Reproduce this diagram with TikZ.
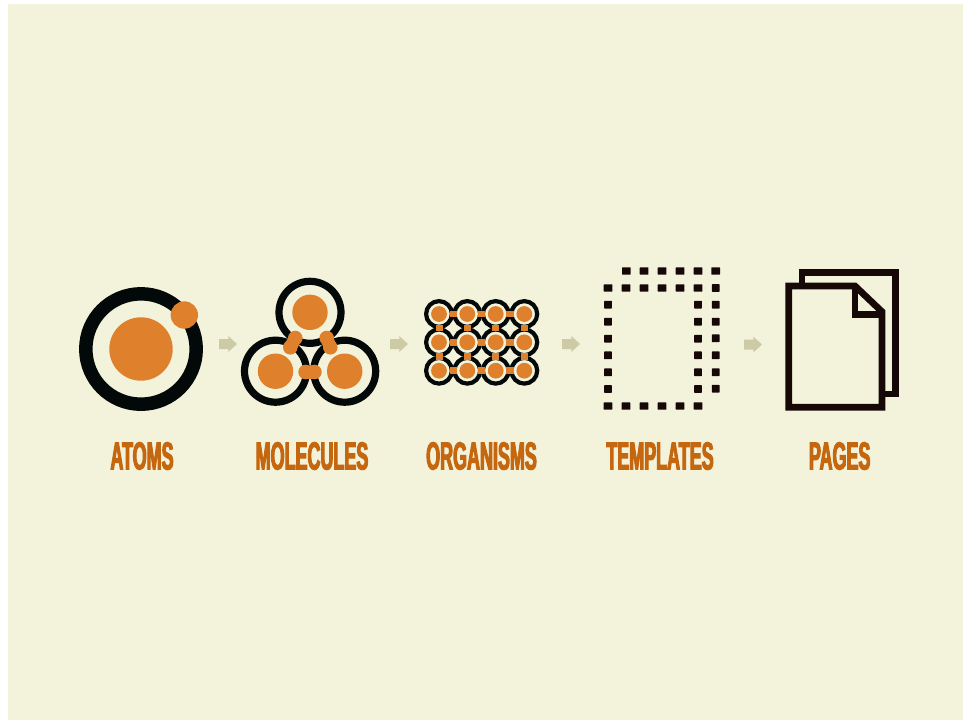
\documentclass[tikz,border=0pt]{standalone}
\usepackage{fontspec}
\newfontfamily\labelfont[FakeStretch=0.46,FakeBold=2.6]{Liberation Sans Bold}
\definecolor{paper}{HTML}{F3F2DA}
\definecolor{inkblack}{HTML}{030808}
\definecolor{inkbrown}{HTML}{170808}
\definecolor{discorange}{HTML}{DF812C}
\definecolor{labelorange}{HTML}{C4670F}
\definecolor{arrowtan}{HTML}{CCCBA6}
\tikzset{
  x=1pt,y=-1pt,
  ring/.style={draw=inkblack},
  disc/.style={fill=discorange},
  labeltext/.style={text=labelorange,font=\labelfont\fontsize{39}{39}\selectfont,inner sep=0pt,anchor=center},
  arrowblock/.style={fill=arrowtan},
  dot/.style={fill=inkbrown,rounded corners=0.5pt},
  pageline/.style={draw=inkbrown,line width=6.7pt,miter limit=10,fill=none},
}
\newcommand{\tarrow}[2]{\path[arrowblock] (#1,#2-5) -- (#1+9.3,#2-5) -- (#1+9.3,#2-8) -- (#1+18,#2) -- (#1+9.3,#2+8) -- (#1+9.3,#2+5) -- (#1,#2+5) -- cycle;}
\newcommand{\rdot}[2]{\path[dot] (#1-4.3,#2-3.7) rectangle (#1+4.3,#2+3.7);}
\newcommand{\vdotbox}[2]{\path[dot] (#1-3.8,#2-3.9) rectangle (#1+3.8,#2+3.9);}
\begin{document}
\begin{tikzpicture}
\useasboundingbox (0,0) rectangle (963,721);
\fill[white] (0,0) rectangle (963,721);
\fill[paper] (8,4) rectangle (963,720);
% atoms
\draw[ring,line width=13.5pt] (141,349) circle[radius=55.2];
\fill[disc] (141,349) circle[radius=31.7];
\fill[disc] (184.3,315) circle[radius=13.7];
% molecules
\foreach \cx/\cy in {310/312.3,275.5/371.2,344.7/371.2}{
  \draw[ring,line width=7.2pt] (\cx,\cy) circle[radius=31];
  \fill[disc] (\cx,\cy) circle[radius=17.7];
}
\foreach \ax/\ay/\bx/\by in {295.3/338/290.3/347.3,326.7/338/330.3/347.3,305.6/372/314.4/372}{
  \fill[disc] (\ax,\ay) circle[radius=7.3];
  \fill[disc] (\bx,\by) circle[radius=7.3];
  \draw[discorange,line width=13pt] (\ax,\ay) -- (\bx,\by);
}
% organisms
\foreach \cx in {439,467.3,495.7,524.3}\foreach \cy in {314,342.3,370.7}{
  \draw[ring,line width=4.2pt] (\cx,\cy) circle[radius=12.9];
  \fill[disc] (\cx,\cy) circle[radius=7.9];
}
\foreach \cx in {453.15,481.5,510}\foreach \cy in {314,342.3,370.7}{
  \fill[disc] (\cx-3.6,\cy-3.4) rectangle (\cx+3.6,\cy+3.4);
}
\foreach \cx in {439,467.3,495.7,524.3}\foreach \cy in {328.15,356.5}{
  \fill[disc] (\cx-3.5,\cy-3.3) rectangle (\cx+3.5,\cy+3.3);
}
% templates
\foreach \px in {626.3,644,662,680,698,715.7}{\rdot{\px}{271}}
\foreach \py in {288,304.7,321.7,338.3,355.3,372.3,388.7}{\vdotbox{715.7}{\py}}
\foreach \px in {608,626,644,662,680,698}{\rdot{\px}{288}\rdot{\px}{406}}
\foreach \py in {304.7,321.7,338.7,355.3,372.3,389}{\vdotbox{608}{\py}\vdotbox{698}{\py}}
% pages
\draw[pageline] (802,286) -- (802,272.7) -- (895.3,272.7) -- (895.3,394) -- (882,394);
\draw[pageline,miter limit=2] (855,286) -- (788.7,286) -- (788.7,407.3) -- (882,407.3) -- (882,311.7) -- (855,286) -- cycle;
\draw[pageline] (855,286) -- (855,314.3) -- (885,314.3);
% arrows
\tarrow{219}{344}
\tarrow{390}{344}
\tarrow{562}{344}
\tarrow{744}{344.5}
% labels
\node[labeltext] (atoms) at (142,456) {ATOMS};
\node[labeltext] (molecules) at (312,456) {MOLECULES};
\node[labeltext] (organisms) at (481.5,456) {ORGANISMS};
\node[labeltext] (templates) at (660,456) {TEMPLATES};
\node[labeltext] (pages) at (839.7,456) {PAGES};
\end{tikzpicture}
\end{document}
